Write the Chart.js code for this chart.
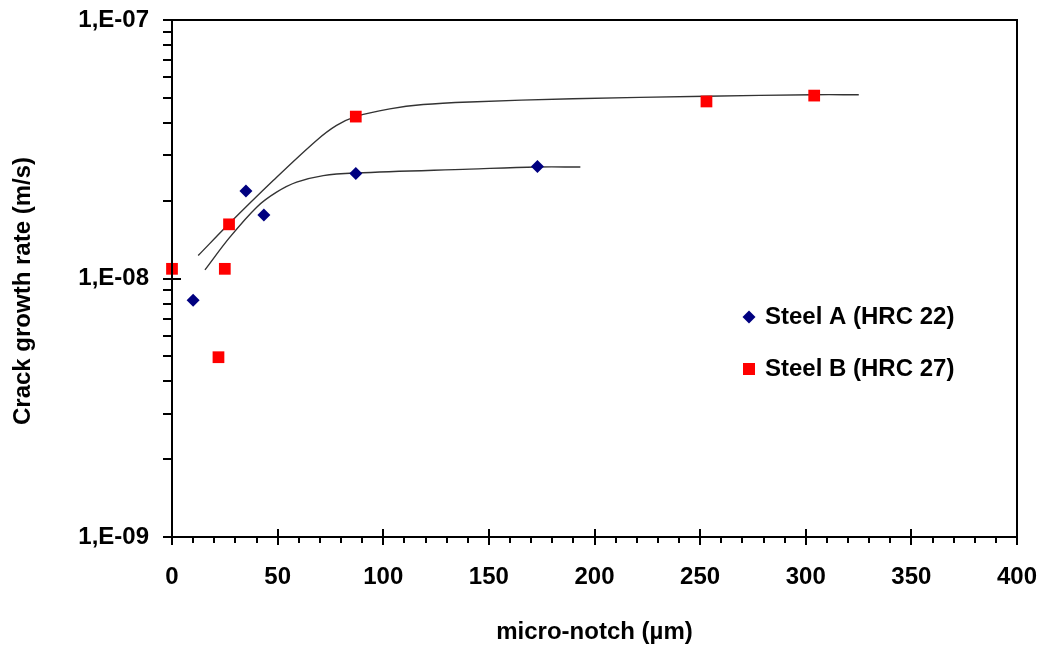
<!DOCTYPE html>
<html>
<head>
<meta charset="utf-8">
<script src="https://cdn.jsdelivr.net/npm/chart.js@4.4.1/dist/chart.umd.min.js"></script>
<style>
  html, body { margin: 0; padding: 0; background: #fff; }
  #wrap { width: 1043px; height: 648px; }
</style>
</head>
<body>
<div id="wrap"><canvas id="chart" width="1043" height="648"></canvas></div>
<script>
// measured points
const steelAx = [10, 35, 43.5, 87, 173];
const steelAy = [8.24e-9, 2.18e-8, 1.76e-8, 2.55e-8, 2.71e-8];
const steelBx = [0, 22, 25, 27, 87, 253, 304];
const steelBy = [1.09e-8, 4.96e-9, 1.09e-8, 1.62e-8, 4.23e-8, 4.84e-8, 5.1e-8];

// trend curves
const trendAx = [15.6, 27.4, 40.1, 49.5, 59, 71.6, 86.9, 141, 172.5, 193.3];
const trendAy = [1.08e-8, 1.445e-8, 1.888e-8, 2.157e-8, 2.358e-8, 2.5e-8, 2.56e-8, 2.65e-8, 2.7e-8, 2.7e-8];
const trendBx = [12.4, 27, 47.9, 68.4, 77.9, 86.9, 103.1, 118.9, 141, 189.7, 252.9, 303.4, 325.1];
const trendBy = [1.227e-8, 1.628e-8, 2.393e-8, 3.42e-8, 3.91e-8, 4.23e-8, 4.53e-8, 4.71e-8, 4.82e-8, 4.96e-8, 5.07e-8, 5.14e-8, 5.14e-8];

const seriesNames = ['Steel A (HRC 22)', 'Steel B (HRC 27)'];
const xTitle = 'micro-notch (µm)';
const yTitle = 'Crack growth rate (m/s)';
const xMin = 0, xMax = 400, xStep = 10, xLabelStep = 50;
const yMin = 1e-9, yMax = 1e-7;

const FONT = '"Liberation Sans", Arial, sans-serif';
const zip = (xs, ys) => xs.map((x, i) => ({x: x, y: ys[i]}));

// axis box, tick marks, y title and legend
const decor = {
  id: 'decor',
  afterDraw(chart) {
    const ctx = chart.ctx;
    const a = chart.chartArea;
    const xs = chart.scales.x, ys = chart.scales.y;
    ctx.save();
    ctx.strokeStyle = '#000';
    ctx.lineWidth = 2;
    ctx.strokeRect(a.left, a.top, a.right - a.left, a.bottom - a.top);

    ctx.beginPath();
    for (let v = xMin; v <= xMax; v += xStep) {
      const px = Math.round(xs.getPixelForValue(v));
      if (v % xLabelStep === 0) {
        ctx.moveTo(px, a.bottom - 8); ctx.lineTo(px, a.bottom + 8);
      } else {
        ctx.moveTo(px, a.bottom); ctx.lineTo(px, a.bottom + 6);
      }
    }
    for (let e = -9; e <= -7; e++) {
      const py = Math.round(ys.getPixelForValue(Math.pow(10, e)));
      ctx.moveTo(a.left - 9, py); ctx.lineTo(a.left + 9, py);
      if (e < -7) {
        for (let m = 2; m <= 9; m++) {
          const pm = Math.round(ys.getPixelForValue(m * Math.pow(10, e)));
          ctx.moveTo(a.left - 9, pm); ctx.lineTo(a.left, pm);
        }
      }
    }
    ctx.stroke();

    ctx.fillStyle = '#000';
    ctx.font = 'bold 24px ' + FONT;
    ctx.textAlign = 'center';
    ctx.textBaseline = 'middle';
    ctx.save();
    ctx.translate(23, 291);
    ctx.rotate(-Math.PI / 2);
    ctx.fillText(yTitle, 0, 0);
    ctx.restore();

    // legend
    const lx = 749, rows = [317, 369];
    chart.data.datasets.slice(0, 2).forEach((ds, i) => {
      const cy = rows[i];
      ctx.fillStyle = ds.backgroundColor;
      ctx.beginPath();
      if (ds.pointStyle === 'rectRot') {
        ctx.moveTo(lx - 6.5, cy); ctx.lineTo(lx, cy - 6.5);
        ctx.lineTo(lx + 6.5, cy); ctx.lineTo(lx, cy + 6.5);
      } else {
        ctx.rect(lx - 6, cy - 6, 12, 12);
      }
      ctx.closePath();
      ctx.fill();
      ctx.fillStyle = '#000';
      ctx.textAlign = 'left';
      ctx.fillText(ds.label, 765, cy);
    });
    ctx.restore();
  }
};

const trendStyle = {
  type: 'line',
  showLine: true,
  borderColor: '#333333',
  borderWidth: 1.4,
  pointRadius: 0,
  tension: 0.35,
  fill: false,
  order: 2
};

new Chart(document.getElementById('chart'), {
  type: 'scatter',
  data: {
    datasets: [
      {
        label: seriesNames[0],
        data: zip(steelAx, steelAy),
        pointStyle: 'rectRot',
        pointRadius: 6.5,
        pointHoverRadius: 6.5,
        backgroundColor: '#000080',
        borderColor: '#000080',
        borderWidth: 0,
        clip: false,
        order: 1
      },
      {
        label: seriesNames[1],
        data: zip(steelBx, steelBy),
        pointStyle: 'rect',
        pointRadius: 8.3,
        pointHoverRadius: 8.3,
        backgroundColor: '#FF0000',
        borderColor: '#FF0000',
        borderWidth: 0,
        clip: false,
        order: 1
      },
      Object.assign({ data: zip(trendAx, trendAy) }, trendStyle),
      Object.assign({ data: zip(trendBx, trendBy) }, trendStyle)
    ]
  },
  options: {
    responsive: false,
    animation: false,
    devicePixelRatio: 1,
    layout: { padding: { top: 20, right: 26, left: 0, bottom: 0 } },
    plugins: { legend: { display: false }, tooltip: { enabled: false } },
    scales: {
      x: {
        type: 'linear',
        min: xMin,
        max: xMax,
        grid: { display: false, drawTicks: false },
        border: { display: false },
        ticks: {
          stepSize: xStep,
          autoSkip: false,
          maxRotation: 0,
          padding: 26,
          color: '#000',
          font: { family: FONT, size: 24, weight: 'bold' },
          callback: v => (v % xLabelStep === 0 ? String(v) : '')
        },
        title: {
          display: true,
          text: xTitle,
          color: '#000',
          font: { family: FONT, size: 24, weight: 'bold' },
          padding: { top: 0, bottom: 1 }
        },
        afterFit: s => { s.height = 111; s.paddingLeft = 0; s.paddingRight = 0; }
      },
      y: {
        type: 'logarithmic',
        min: yMin,
        max: yMax,
        grid: { display: false, drawTicks: false },
        border: { display: false },
        ticks: {
          autoSkip: false,
          padding: 23,
          color: '#000',
          font: { family: FONT, size: 24, weight: 'bold' },
          callback: v => {
            const e = Math.log10(v);
            const r = Math.round(e);
            return Math.abs(e - r) < 1e-6 ? '1,E-0' + (-r) : '';
          }
        },
        afterFit: s => { s.width = 172; s.paddingTop = 0; s.paddingBottom = 0; }
      }
    }
  },
  plugins: [decor]
});
</script>
</body>
</html>
